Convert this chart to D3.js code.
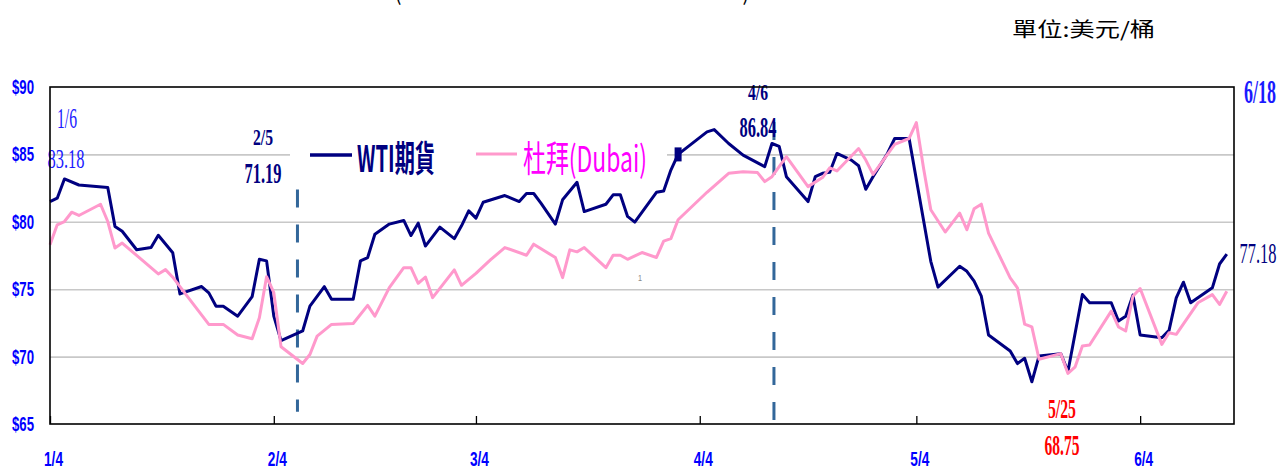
<!DOCTYPE html>
<html>
<head>
<meta charset="utf-8">
<script src="https://cdn.jsdelivr.net/npm/d3@7"></script>
<style>
  body { margin: 0; background: #fff; }
</style>
</head>
<body>
<script>
// WTI 期貨 (日期 / 價格)
const wtiDates = ["1/4","1/5","1/6","1/8","1/12","1/13","1/14","1/16","1/18","1/19","1/21","1/22","1/25","1/26","1/27","1/28","1/30",
  "2/1","2/2","2/3","2/4","2/5","2/8","2/9","2/11","2/12","2/15","2/16","2/17","2/18","2/20","2/22","2/23","2/24","2/25","2/27",
  "3/1","3/2","3/3","3/4","3/5","3/8","3/10","3/11","3/12","3/13","3/15","3/16","3/18","3/19","3/22","3/23","3/24","3/25","3/26","3/29","3/30","3/31",
  "4/1","4/5","4/6","4/8","4/10","4/13","4/14","4/15","4/16","4/19","4/20","4/21","4/22","4/23","4/25","4/26","4/27","4/28","4/30",
  "5/1","5/3","5/6","5/7","5/10","5/11","5/12","5/13","5/14","5/17","5/18","5/19","5/20","5/21","5/24","5/25","5/27","5/28","5/31",
  "6/1","6/2","6/3","6/4","6/7","6/8","6/9","6/10","6/11","6/14","6/15","6/16"];
const wtiValues = [81.5,81.75,83.18,82.73,82.54,79.66,79.3,77.93,78.1,79.0,77.7,74.65,75.2,74.73,73.74,73.74,73.0,
  74.45,77.22,77.1,73.0,71.19,71.9,73.75,75.19,74.25,74.25,77.1,77.35,79.08,79.83,80.1,78.98,79.9,78.2,79.6,
  78.75,79.7,80.81,80.27,81.45,81.95,81.5,82.1,82.1,81.38,79.83,81.63,82.93,80.76,81.3,82.0,82.0,80.4,79.98,82.19,82.29,83.84,
  85.0,86.67,86.84,85.81,84.95,84.09,85.81,85.6,83.35,81.5,83.35,83.6,83.67,85.07,84.58,84.16,82.41,83.35,85.07,
  86.18,86.18,77.07,75.15,76.7,76.33,75.6,74.48,71.6,70.42,69.48,69.88,68.13,70.05,70.22,68.89,74.6,73.99,73.99,
  72.64,73.0,74.56,71.6,71.4,71.95,74.36,75.52,73.99,75.1,76.87,77.6];

// 杜拜 (Dubai)
const dubaiDates = ["1/4","1/5","1/6","1/7","1/8","1/11","1/12","1/13","1/14","1/16","1/19","1/20","1/21","1/23","1/26","1/28","1/30",
  "2/1","2/2","2/3","2/4","2/5","2/8","2/9","2/10","2/12","2/15","2/17","2/18","2/20","2/22","2/23","2/24","2/25","2/26",
  "3/1","3/2","3/4","3/6","3/8","3/11","3/12","3/15","3/16","3/17","3/18","3/19","3/22","3/23","3/24","3/25","3/27","3/29","3/30","3/31",
  "4/1","4/5","4/8","4/10","4/12","4/13","4/14","4/16","4/19","4/21","4/22","4/23","4/26","4/27","4/28",
  "5/1","5/3","5/4","5/5","5/6","5/8","5/10","5/11","5/12","5/13","5/14","5/17","5/18","5/19","5/20","5/21","5/24","5/25","5/26","5/27","5/28","5/31",
  "6/1","6/2","6/3","6/4","6/7","6/8","6/9","6/12","6/14","6/15","6/16"];
const dubaiValues = [78.3,79.78,80.02,80.71,80.47,81.3,80.02,78.05,78.42,77.51,76.13,76.45,75.89,74.48,72.39,72.39,71.6,
  71.32,72.88,75.93,74.74,70.73,69.49,70.16,71.52,72.39,72.46,73.8,73.0,75.12,76.6,76.6,75.44,75.9,74.37,
  76.43,75.29,76.18,77.17,78.09,77.52,78.34,77.35,75.86,77.92,77.77,78.09,76.6,77.52,77.52,77.22,77.72,77.35,78.57,78.75,
  80.15,82.19,83.6,83.72,83.65,82.98,83.35,84.83,82.61,83.28,84.0,83.77,85.44,84.58,83.52,
  85.74,86.18,87.36,83.97,80.89,79.24,80.64,79.41,80.96,81.31,79.16,75.84,75.1,72.41,72.2,69.8,70.22,68.75,69.24,70.79,70.86,73.37,
  72.2,71.9,74.48,75.05,70.91,71.77,71.65,73.99,74.6,73.87,74.85];

const xTicks = ["1/4","2/4","3/4","4/4","5/4","6/4"];
const yTicks = [65, 70, 75, 80, 85, 90];
const gridValues = [70, 75, 80, 85];
const dashDates = ["2/7", "4/14"];
const dashRanges = [[65.9, 82.4], [65, 87.4]];

const parseD = s => d3.timeParse("%Y/%m/%d")("2023/" + s);

const width = 1282, height = 471;
const plot = { left: 50, right: 1234, top: 87, bottom: 424 };

const svg = d3.select("body").append("svg")
  .attr("width", width)
  .attr("height", height)
  .style("font-family", "'Liberation Serif', serif");

const x = d3.scaleTime()
  .domain([parseD("1/4"), parseD("6/17")])
  .range([plot.left, plot.right]);
const y = d3.scaleLinear()
  .domain([65, 90])
  .range([plot.bottom, plot.top]);

// helper for condensed text
function label(txt, cx, base, size, len, color, weight, family, anchor) {
  return svg.append("text")
    .attr("x", cx).attr("y", base)
    .attr("text-anchor", anchor || "middle")
    .attr("font-size", size)
    .attr("font-weight", weight || "normal")
    .attr("font-family", family || "'Liberation Serif', serif")
    .attr("textLength", len)
    .attr("lengthAdjust", "spacingAndGlyphs")
    .attr("fill", color)
    .text(txt);
}

// title remnants and unit
label("(", 398, 0, 24, 7, "#000", "normal", "'Noto Sans CJK TC'");
label(")", 746, 0, 24, 7, "#000", "normal", "'Noto Sans CJK TC'");
label("單位:美元/桶", 1012, 37, 20, 143, "#000", "normal", "'Noto Sans CJK TC'", "start");

// gridlines
svg.append("g")
  .attr("transform", `translate(${plot.left},0)`)
  .call(d3.axisLeft(y).tickValues(gridValues).tickSize(-(plot.right - plot.left)).tickFormat(""))
  .call(g => g.select(".domain").remove())
  .call(g => g.selectAll("line").attr("stroke", "#c8c8c8").attr("stroke-width", 1.6));

// y axis labels
svg.append("g")
  .attr("transform", `translate(${plot.left},0)`)
  .call(d3.axisLeft(y).tickValues(yTicks).tickSize(0).tickPadding(16).tickFormat(d => "$" + d))
  .call(g => g.select(".domain").remove())
  .call(g => g.selectAll("text")
    .attr("font-family", "'Liberation Sans', Arial, sans-serif")
    .attr("font-weight", "bold")
    .attr("font-size", 20)
    .attr("fill", "#0000ff")
    .attr("textLength", 22)
    .attr("lengthAdjust", "spacingAndGlyphs"));

// x axis
svg.append("g")
  .attr("transform", `translate(0,${plot.bottom})`)
  .call(d3.axisBottom(x).tickValues(xTicks.map(parseD)).tickSizeInner(-8).tickSizeOuter(0).tickFormat(d3.timeFormat("%-m/%-d")))
  .call(g => g.select(".domain").remove())
  .call(g => g.selectAll("line").attr("stroke", "#000").attr("stroke-width", 1.3))
  .call(g => g.selectAll("text")
    .attr("y", 42).attr("dy", null).attr("dx", 3)
    .attr("font-family", "'Liberation Sans', Arial, sans-serif")
    .attr("font-weight", "bold")
    .attr("font-size", 20)
    .attr("fill", "#0000ff")
    .attr("textLength", 19)
    .attr("lengthAdjust", "spacingAndGlyphs"));

// dashed event lines
svg.selectAll(".event")
  .data(dashDates)
  .enter().append("line")
  .attr("class", "event")
  .attr("x1", d => x(parseD(d)) + 2).attr("x2", d => x(parseD(d)) + 2)
  .attr("y1", (d, i) => y(dashRanges[i][1]))
  .attr("y2", (d, i) => y(dashRanges[i][0]))
  .attr("stroke", "#33679a")
  .attr("stroke-width", 3)
  .attr("stroke-dasharray", "18,17");

// legend box
svg.append("rect").attr("x", 290).attr("y", 136).attr("width", 377).attr("height", 42).attr("fill", "#fff");
svg.append("line").attr("x1", 310).attr("x2", 352).attr("y1", 155).attr("y2", 155).attr("stroke", "#000080").attr("stroke-width", 3.5);
label("WTI期貨", 357, 172, 36, 78, "#000080", "bold", "'Noto Sans CJK TC'", "start");
svg.append("line").attr("x1", 476).attr("x2", 517).attr("y1", 154).attr("y2", 154).attr("stroke", "#ff99cc").attr("stroke-width", 3);
label("杜拜(Dubai)", 523, 172, 36, 124, "#ff00ff", "normal", "'Noto Sans CJK TC'", "start");

// lines
const line = d3.line()
  .x(d => x(d.date))
  .y(d => y(d.value));

const wti = wtiDates.map((d, i) => ({ date: parseD(d), value: wtiValues[i] }));
const dubai = dubaiDates.map((d, i) => ({ date: parseD(d), value: dubaiValues[i] }));

svg.append("path")
  .datum(wti)
  .attr("d", line)
  .attr("fill", "none")
  .attr("stroke", "#000080")
  .attr("stroke-width", 3)
  .attr("stroke-linejoin", "round");

svg.append("path")
  .datum(dubai)
  .attr("d", line)
  .attr("fill", "none")
  .attr("stroke", "#ff99cc")
  .attr("stroke-width", 3)
  .attr("stroke-linejoin", "round");

// single marker on WTI
const mk = wti.find(d => d3.timeFormat("%-m/%-d")(d.date) === "4/1");
svg.append("rect")
  .attr("x", x(mk.date) - 3.5).attr("y", y(mk.value) - 7)
  .attr("width", 7).attr("height", 14)
  .attr("fill", "#000080");

// annotations
label("1/6", 67, 128, 30, 20, "#1a1aff", "normal");
label("83.18", 66, 168, 27, 37, "#1a1aff", "normal");
label("2/5", 263, 145, 23, 20, "#000080", "bold");
label("71.19", 263, 183, 30, 37, "#000080", "bold");
label("4/6", 758, 100, 23, 20, "#000080", "bold");
label("86.84", 758, 137, 30, 37, "#000080", "bold");
label("6/18", 1260, 103, 34, 32, "#1a1aff", "bold");
label("77.18", 1258, 263, 30, 37, "#000080", "normal");
label("5/25", 1062, 418, 27, 28, "#ff0000", "bold");
label("68.75", 1062, 455, 29, 35, "#ff0000", "bold");
label("1", 640, 281, 9, 4, "#888", "normal", "'Liberation Sans', sans-serif");

// frame
svg.append("rect")
  .attr("x", plot.left).attr("y", plot.top)
  .attr("width", plot.right - plot.left).attr("height", plot.bottom - plot.top)
  .attr("fill", "none").attr("stroke", "#000").attr("stroke-width", 1.6);
</script>
</body>
</html>
